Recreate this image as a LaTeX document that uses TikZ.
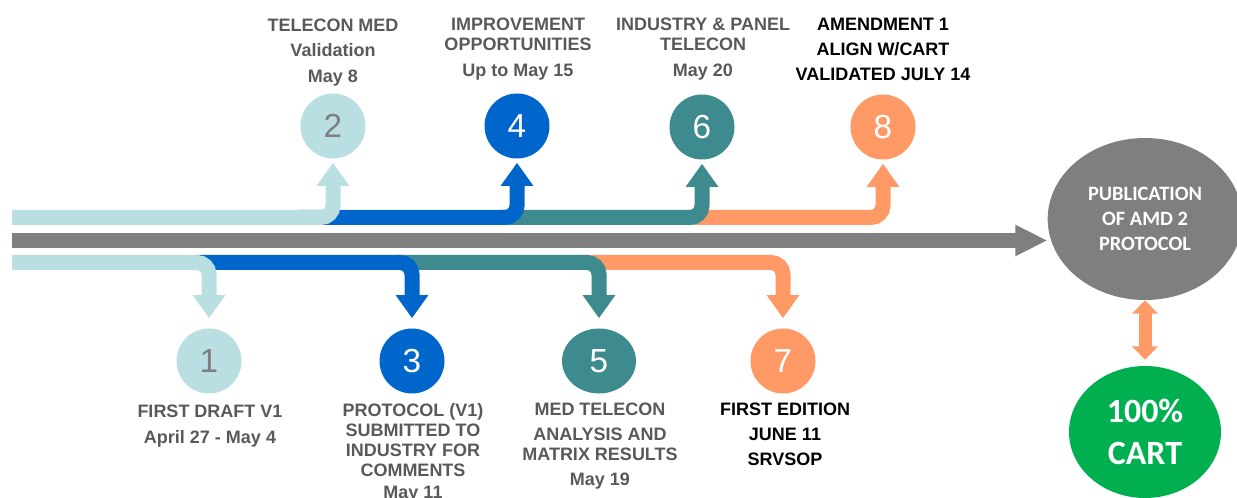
\documentclass[tikz,border=0pt]{standalone}
\usepackage{fontspec}
\setmainfont{Liberation Sans}
\newfontfamily\calfont{Carlito}
\usetikzlibrary{arrows.meta,shapes.geometric}
\definecolor{cLB}{RGB}{185,223,227}
\definecolor{cBL}{RGB}{0,102,204}
\definecolor{cTL}{RGB}{62,139,143}
\definecolor{cOR}{RGB}{255,153,102}
\definecolor{cGR}{RGB}{127,127,127}
\definecolor{cTX}{RGB}{89,89,89}
\definecolor{cGN}{RGB}{0,176,80}
\tikzset{
  band/.style={line width=11.25pt, rounded corners=9pt, -{Triangle[width=23.25pt,length=17.25pt]}},
  num/.style={circle, minimum size=48.75pt, inner sep=0pt, font=\fontsize{25}{25}\selectfont, text=white},
  lbl/.style={align=center, inner sep=0pt, anchor=north, font=\bfseries\fontsize{13.5}{15}\selectfont, text=cTX},
  mainarrow/.style={line width=11.25pt, cGR, -{Triangle[width=21.75pt,length=24pt]}},
  dblarrow/.style={line width=9.75pt, cOR, {Triangle[width=18.75pt,length=10pt]}-{Triangle[width=18.75pt,length=10pt]}}
}
\begin{document}
\begin{tikzpicture}[x=0.75pt,y=-0.75pt]
\useasboundingbox (0,0) rectangle (1237,498);
% circles
\node[num, fill=cLB, text=cGR] (c1) at (209,361) {1};
\node[num, fill=cBL] (c3) at (412,361) {3};
\node[num, fill=cTL, ellipse, minimum width=55.5pt, minimum height=48.75pt] (c5) at (599,361) {5};
\node[num, fill=cOR] (c7) at (783,361) {7};
\node[num, fill=cLB, text=cGR] (c2) at (333,126) {2};
\node[num, fill=cBL] (c4) at (517,126) {4};
\node[num, fill=cTL] (c6) at (702,127) {6};
\node[num, fill=cOR] (c8) at (883,127) {8};
% publication and cart
\node[ellipse, fill=cGR, minimum width=146pt, minimum height=121.5pt, inner sep=0pt,
      text=white, align=center, font=\calfont\bfseries\fontsize{15.3}{19}\selectfont] (pub) at (1145,219)
      {PUBLICATION\\OF AMD 2\\PROTOCOL};
\node[ellipse, fill=cGN, minimum width=114pt, minimum height=99pt, inner sep=0pt,
      text=white, align=center, font=\calfont\bfseries\fontsize{25.5}{31}\selectfont] (cart) at (1145,432)
      {100\%\\CART};
% labels
\node[lbl] (t2) at (333,18.5) {TELECON MED\\[3.75pt]Validation\\[4.5pt]May 8};
\node[lbl] (t4) at (518,17.5) {IMPROVEMENT\\OPPORTUNITIES\\[5pt]Up to May 15};
\node[lbl] (t6) at (703,17.5) {INDUSTRY \& PANEL\\TELECON\\[5pt]May 20};
\node[lbl, text=black] (t8) at (883,17.5) {AMENDMENT 1\\[3.75pt]ALIGN W/CART\\[3.75pt]VALIDATED JULY 14};
\node[lbl] (t1) at (210,404.5) {FIRST DRAFT V1\\[4.5pt]April 27 - May 4};
\node[lbl] (t3) at (413,403.5) {PROTOCOL (V1)\\SUBMITTED TO\\INDUSTRY FOR\\COMMENTS\\[1.5pt]May 11};
\node[lbl] (t5) at (600,402.5) {MED TELECON\\[3.75pt]ANALYSIS AND\\MATRIX RESULTS\\[3.75pt]May 19};
\node[lbl, text=black] (t7) at (785,402.5) {FIRST EDITION\\[3.75pt]JUNE 11\\[3.75pt]SRVSOP};
% start coordinates
\coordinate (s8) at (685,217.5);
\coordinate (s6) at (500,217.5);
\coordinate (s4) at (300,217.5);
\coordinate (s2) at (12,217.5);
\coordinate (s7) at (583,262.5);
\coordinate (s5) at (397,262.5);
\coordinate (s3) at (195,262.5);
\coordinate (s1) at (12,262.5);
\coordinate (g0) at (12,240.5);
% top bands
\draw[band, cOR, shorten >=3pt] (s8) -| (c8.south);
\draw[band, cTL, shorten >=3pt] (s6) -| (c6.south);
\draw[band, cBL, shorten >=3pt] (s4) -| (c4.south);
\draw[band, cLB, shorten >=3pt] (s2) -| (c2.south);
% bottom bands
\draw[band, cOR, shorten >=7.5pt] (s7) -| (c7.north);
\draw[band, cTL, shorten >=7.5pt] (s5) -| (c5.north);
\draw[band, cBL, shorten >=7.5pt] (s3) -| (c3.north);
\draw[band, cLB, shorten >=7.5pt] (s1) -| (c1.north);
% main arrow
\draw[mainarrow] (g0) -- (g0 -| pub.west);
% double arrow
\draw[dblarrow, shorten >=4.5pt] (pub.south) -- (cart.north);
\end{tikzpicture}
\end{document}
